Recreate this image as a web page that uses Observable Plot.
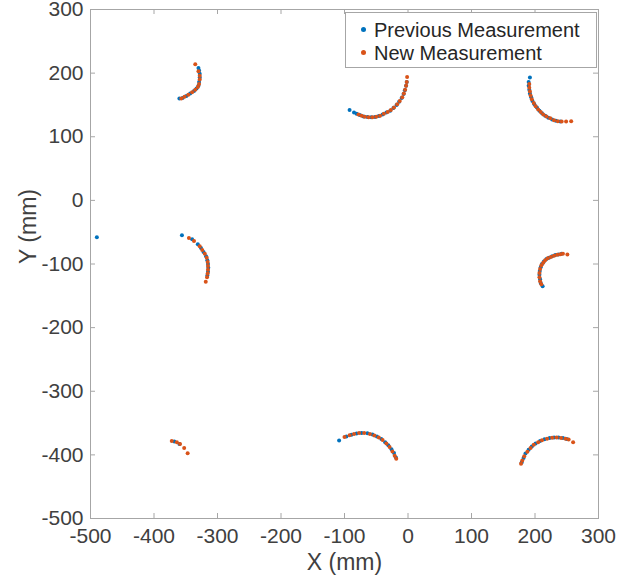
<!DOCTYPE html>
<html>
<head>
<meta charset="utf-8">
<script src="https://cdn.jsdelivr.net/npm/d3@7"></script>
<script src="https://cdn.jsdelivr.net/npm/@observablehq/plot@0.6"></script>
<style>
  html, body { margin: 0; padding: 0; background: #fff; }
  #wrap { position: relative; width: 619px; height: 588px; font-family: "Liberation Sans", Arial, sans-serif; }
  #legend { position: absolute; left: 345px; top: 12px; width: 252px; height: 56px; border: 1px solid #a6a6a6; background: #fff; box-sizing: border-box; }
  .item { position: absolute; font-size: 20px; line-height: 22px; color: #262626; white-space: nowrap; }
  .dot { position: absolute; width: 5px; height: 5px; border-radius: 50%; }
</style>
</head>
<body>
<div id="wrap"></div>
<script>
const seriesNames = ["Previous Measurement", "New Measurement"];
const seriesColors = ["#0072BD", "#D95319"];
const xTicks = [-500, -400, -300, -200, -100, 0, 100, 200, 300];
const yTicks = [-500, -400, -300, -200, -100, 0, 100, 200, 300];

const prevX = [
  -360, -355, -349, -343, -337, -333, -330, -329, -328, -328, -329, -330,
  -92, -85, -81, -76, -70, -64, -58, -52, -46, -40, -34, -28, -23, -18, -14, -10, -7, -5, -3, -2,
  192, 190, 190, 191, 192, 194, 196, 199, 203, 207, 211, 216, 221, 227, 233, 240,
  -490, -356, -340, -331, -326, -322, -318, -316, -315, -314.5, -315, -316,
  212, 209, 208, 207, 207.5, 209, 211, 214, 218, 222, 227, 232, 237, 242,
  -368, -360,
  -108.5, -97, -89, -81, -73, -64, -56, -49, -42, -36, -31, -26, -22, -19,
  179, 182, 185, 190, 195, 201, 208, 215, 223, 230, 237, 244, 250
];
const prevY = [
  160, 161, 164, 168, 172, 176, 180, 186, 193, 199, 204, 208,
  142, 138, 136, 134, 132, 131, 130.5, 131, 132.5, 135, 138, 141, 145, 150, 155, 161, 167, 173, 180, 186,
  193, 186, 180, 174, 168, 162, 156, 151, 146, 141, 137, 133, 130, 127, 125, 124,
  -58, -55, -61, -69, -75, -81, -88, -94, -100, -106, -112, -118,
  -135, -130, -124, -117, -111, -105, -100, -96, -92, -90, -88, -86, -85, -84,
  -379, -383,
  -377.6, -371, -368.5, -366.5, -365.5, -366, -368, -371, -375, -380, -385, -391, -397, -404,
  -412, -405, -398, -392, -387, -382, -378, -375.5, -373.5, -372.5, -372.5, -373.5, -375
];
const newX = [
  -335, -330, -328, -328, -329, -331, -335, -340, -346, -352, -357,
  -78, -73, -68, -62, -56, -50, -44, -38, -32, -27, -22, -17, -13, -9, -6.5, -4.5, -3, -2, -1.4,
  191, 191, 192, 193, 195, 198, 201, 205, 209, 213, 218, 224, 230, 236, 242, 249, 257,
  -345, -337, -328, -324, -320, -317, -315.5, -315, -315, -315.5, -316.5, -318.5,
  210, 208, 207, 207, 208, 210, 213, 216, 220, 225, 230, 235, 240, 244, 251,
  -372, -364, -359, -352.5, -347,
  -100, -92, -85, -77, -69, -60, -53, -46, -40, -34, -29, -24.5, -21, -18.5,
  178, 180, 183, 188, 193, 198, 205, 211, 219, 227, 234, 241, 248, 253, 260
];
const newY = [
  214, 203, 196, 190, 183, 178, 174, 170, 166, 163, 160,
  135, 133, 131.5, 130.5, 130.5, 131.5, 133, 136, 139, 142, 146, 151, 156, 162, 168, 174, 180, 186, 194,
  183, 177, 171, 165, 159, 153, 148, 143, 139, 135, 132, 129, 126, 124.5, 124, 124, 124.5,
  -59, -64, -72, -78, -84, -90, -97, -103, -109, -115, -121, -128,
  -132, -127, -121, -114, -108, -102, -98, -94, -91, -89, -87, -85.5, -84.5, -84, -85,
  -378, -380, -383, -389, -397.5,
  -372, -369, -367, -365.5, -365.5, -367, -369.5, -372.5, -376.5, -382, -387.5, -394.5, -401.5, -406,
  -414, -409, -402, -395, -389, -384, -380, -377, -374.5, -373, -372.5, -373.5, -374.5, -376, -380
];

const prev = prevX.map((x, i) => ({x, y: prevY[i]}));
const next = newX.map((x, i) => ({x, y: newY[i]}));

const W = 619, H = 588;
const mL = 90, mR = 21, mT = 9, mB = 70;
const frameW = W - mL - mR, frameH = H - mT - mB;
const axisColor = "#a6a6a6";
const textColor = "#404040";
const fmt = d => String(d);

const chart = Plot.plot({
  width: W,
  height: H,
  marginLeft: mL,
  marginRight: mR,
  marginTop: mT,
  marginBottom: mB,
  style: {fontFamily: "'Liberation Sans', Arial, sans-serif", fontSize: "21px", color: textColor, background: "#fff"},
  x: {domain: [-500, 300], ticks: xTicks, label: null},
  y: {domain: [-500, 300], ticks: yTicks, label: null},
  marks: [
    Plot.frame({stroke: axisColor}),
    Plot.ruleX(xTicks, {stroke: axisColor, insetTop: frameH - 5}),
    Plot.ruleX(xTicks, {stroke: axisColor, insetBottom: frameH - 5}),
    Plot.ruleY(yTicks, {stroke: axisColor, insetRight: frameW - 5}),
    Plot.ruleY(yTicks, {stroke: axisColor, insetLeft: frameW - 5}),
    Plot.axisX({ticks: xTicks, tickFormat: fmt, tickSize: 0, tickPadding: 10, fontSize: 21, fill: textColor, label: null}),
    Plot.axisY({ticks: yTicks, tickFormat: fmt, tickSize: 0, tickPadding: 7, fontSize: 21, fill: textColor, label: null}),
    Plot.text(["X (mm)"], {frameAnchor: "bottom", dy: 51, fontSize: 23, fill: textColor}),
    Plot.text(["Y (mm)"], {frameAnchor: "left", dx: -62, rotate: -90, fontSize: 23, fill: textColor}),
    Plot.dot(prev, {x: "x", y: "y", r: 2, fill: seriesColors[0], stroke: "none"}),
    Plot.dot(next, {x: "x", y: "y", r: 2, fill: seriesColors[1], stroke: "none"})
  ]
});

const wrap = document.getElementById("wrap");
wrap.appendChild(chart);

const legend = document.createElement("div");
legend.id = "legend";
seriesNames.forEach((name, i) => {
  const item = document.createElement("div");
  item.className = "item";
  item.style.top = (6 + i * 23) + "px";
  item.style.left = "28px";
  item.textContent = name;
  legend.appendChild(item);
  const dot = document.createElement("div");
  dot.className = "dot";
  dot.style.background = seriesColors[i];
  dot.style.left = "15px";
  dot.style.top = (14 + i * 23) + "px";
  legend.appendChild(dot);
});
wrap.appendChild(legend);
</script>
</body>
</html>
